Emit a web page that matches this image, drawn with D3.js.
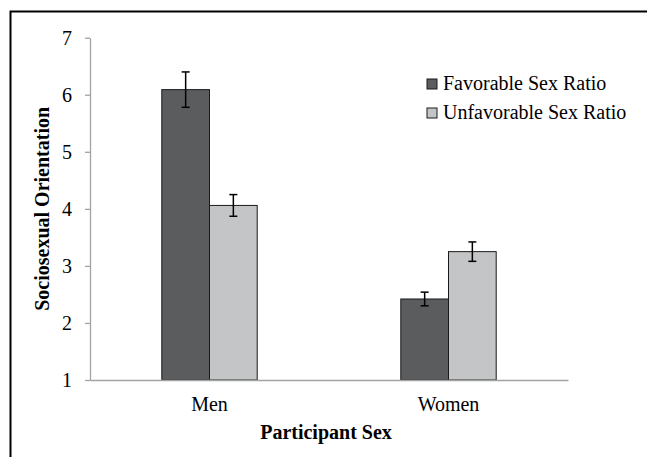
<!DOCTYPE html>
<html>
<head>
<meta charset="utf-8">
<script src="https://cdn.jsdelivr.net/npm/d3@7"></script>
<style>
  html, body { margin: 0; padding: 0; background: #fff; }
  svg { display: block; }
  svg text { font-family: 'Liberation Serif', 'Times New Roman', Times, 'DejaVu Serif', serif; }
</style>
</head>
<body>
<svg id="chart" width="647" height="457"></svg>
<script>
// Participant groups and condition series
const categories = ["Men", "Women"];
const seriesNames = ["Favorable Sex Ratio", "Unfavorable Sex Ratio"];
const favorableMeans = [6.09, 2.42];
const unfavorableMeans = [4.06, 3.25];
const favorableErrors = [0.31, 0.12];
const unfavorableErrors = [0.19, 0.17];
const yTicks = [1, 2, 3, 4, 5, 6, 7];
const colors = ["#5b5c5e", "#c4c5c7"];

const rows = categories.map((c, i) => ({
  category: c,
  values: [
    { series: seriesNames[0], mean: favorableMeans[i], err: favorableErrors[i] },
    { series: seriesNames[1], mean: unfavorableMeans[i], err: unfavorableErrors[i] }
  ]
}));

const svg = d3.select("#chart");
const plotLeft = 90, plotRight = 568, plotTop = 37.7, plotBottom = 380;

// outer frame (top and left edges)
svg.append("path")
  .attr("d", "M10.5,457 L10.5,11.5 L647,11.5")
  .attr("fill", "none").attr("stroke", "#000").attr("stroke-width", 2);

const x0 = d3.scaleBand().domain(categories).range([plotLeft, plotRight]).paddingInner(0).paddingOuter(0);
const barW = 47.7;
const x1 = d3.scaleBand().domain(seriesNames).range([0, barW * 2]);
const y = d3.scaleLinear().domain([1, 7]).range([plotBottom, plotTop]);

// y axis
const yAxis = svg.append("g").attr("transform", `translate(${plotLeft},0)`)
  .call(d3.axisLeft(y).tickValues(yTicks).tickSize(5).tickSizeOuter(0).tickPadding(13).tickFormat(d3.format("d")));
yAxis.attr("font-family", null).attr("font-size", null);
yAxis.select(".domain").attr("stroke", "#a3a3a3").attr("stroke-width", 1.3);
yAxis.selectAll(".tick line").attr("stroke", "#a3a3a3").attr("stroke-width", 1.3);
yAxis.selectAll(".tick text").style("font-size", "20px").attr("fill", "#000");

// bars
const groups = svg.selectAll("g.cat").data(rows).join("g")
  .attr("class", "cat")
  .attr("transform", d => `translate(${x0(d.category) + x0.bandwidth() / 2 - barW},0)`);

groups.selectAll("rect").data(d => d.values).join("rect")
  .attr("x", d => x1(d.series))
  .attr("y", d => y(d.mean))
  .attr("width", x1.bandwidth())
  .attr("height", d => y(1) - y(d.mean))
  .attr("fill", (d, i) => colors[i])
  .attr("stroke", "#1a1a1a").attr("stroke-width", 1);

// error bars
const eb = groups.selectAll("g.err").data(d => d.values).join("g").attr("class", "err")
  .attr("transform", d => `translate(${x1(d.series) + x1.bandwidth() / 2},0)`);
eb.append("line").attr("x1", 0).attr("x2", 0)
  .attr("y1", d => y(d.mean + d.err)).attr("y2", d => y(d.mean - d.err))
  .attr("stroke", "#000").attr("stroke-width", 1.5);
eb.append("line").attr("x1", -4).attr("x2", 4)
  .attr("y1", d => y(d.mean + d.err)).attr("y2", d => y(d.mean + d.err))
  .attr("stroke", "#000").attr("stroke-width", 1.5);
eb.append("line").attr("x1", -4).attr("x2", 4)
  .attr("y1", d => y(d.mean - d.err)).attr("y2", d => y(d.mean - d.err))
  .attr("stroke", "#000").attr("stroke-width", 1.5);

// x axis baseline and category labels
const xAxis = svg.append("g").attr("transform", `translate(0,${plotBottom})`)
  .call(d3.axisBottom(x0).tickSize(0).tickSizeOuter(0).tickPadding(17));
xAxis.attr("font-family", null).attr("font-size", null);
xAxis.select(".domain").attr("stroke", "#a3a3a3").attr("stroke-width", 1.3);
xAxis.selectAll(".tick text").style("font-size", "20px").attr("fill", "#000");

// axis titles
svg.append("text")
  .attr("x", (plotLeft + plotRight) / 2 - 3).attr("y", 439)
  .attr("text-anchor", "middle").style("font-size", "20px").style("font-weight", "bold")
  .text("Participant Sex");
svg.append("text")
  .attr("transform", `translate(48.5,${(plotTop + plotBottom) / 2}) rotate(-90)`)
  .attr("text-anchor", "middle").style("font-size", "20px").style("font-weight", "bold")
  .text("Sociosexual Orientation");

// legend
const legend = svg.append("g").attr("transform", "translate(427,79)");
const li = legend.selectAll("g").data(seriesNames).join("g")
  .attr("transform", (d, i) => `translate(0,${i * 29})`);
li.append("rect").attr("width", 10).attr("height", 10)
  .attr("fill", (d, i) => colors[i]).attr("stroke", "#1a1a1a").attr("stroke-width", 1);
li.append("text").attr("x", 16).attr("y", 10.5).style("font-size", "20px").text(d => d);
</script>
</body>
</html>
